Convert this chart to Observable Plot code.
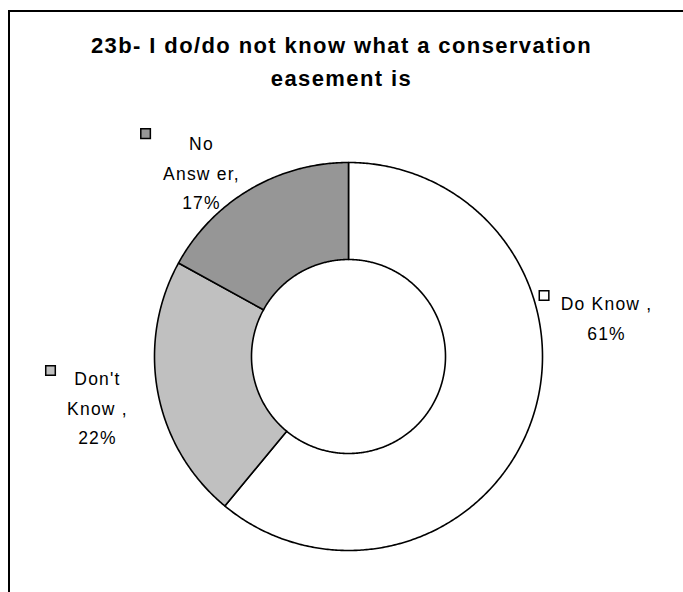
<!DOCTYPE html>
<html>
<head>
<meta charset="utf-8">
<script src="https://cdn.jsdelivr.net/npm/d3@7"></script>
<script src="https://cdn.jsdelivr.net/npm/@observablehq/plot@0.6"></script>
<style>
  html, body { margin: 0; padding: 0; background: #fff; overflow: hidden; }
  #wrap { position: relative; width: 683px; height: 592px; overflow: hidden; background: #fff; }
  #frame { position: absolute; left: 8px; top: 10px; width: 900px; height: 900px; border: 2px solid #000; box-sizing: border-box; }
  #title { position: absolute; left: 0; top: 29px; width: 683px; text-align: center;
           font-family: "Liberation Sans", Arial, sans-serif; font-weight: bold; font-size: 22px; line-height: 33px;
           letter-spacing: 1.4px; color: #000; }
  #chart { position: absolute; left: 0; top: 0; }
  #chart text { letter-spacing: 1.2px; }
</style>
</head>
<body>
<div id="wrap">
  <div id="frame"></div>
  <div id="chart"></div>
  <div id="title">23b- I do/do not know what a conservation<br>easement is</div>
</div>
<script>
// ---- data ----
const categories = ["Do Know", "Don't Know", "No Answer"];
const percents = [61, 22, 17];
const labelLines = ["Do Know ,\n61%", "Don't\nKnow ,\n22%", "No\nAnsw er,\n17%"];

// ---- styles / layout (not data) ----
const sliceColors = ["#ffffff", "#c0c0c0", "#969696"];
const innerRatio = 0.5;
// label anchors in chart units (outer radius = 1)
const textAnchor = [[1.330, -0.345], [-1.294, 0.040], [-0.758, -1.170]];
const keyAnchor = [[1.008, -0.314], [-1.536, 0.072], [-1.046, -1.149]];

const pie = d3.pie().sort(null).value(d => d)(percents);

// ring polygons per slice, built from the pie angles
const ring = [];
pie.forEach((p, i) => {
  const n = Math.max(4, Math.ceil((p.endAngle - p.startAngle) / (Math.PI / 360)));
  for (let k = 0; k <= n; k++) {
    const a = p.startAngle + (p.endAngle - p.startAngle) * k / n;
    ring.push({cat: categories[i], color: sliceColors[i], x: Math.sin(a), y: -Math.cos(a)});
  }
  for (let k = n; k >= 0; k--) {
    const a = p.startAngle + (p.endAngle - p.startAngle) * k / n;
    ring.push({cat: categories[i], color: sliceColors[i], x: innerRatio * Math.sin(a), y: -innerRatio * Math.cos(a)});
  }
});

const labels = categories.map((c, i) => ({
  cat: c, color: sliceColors[i], text: labelLines[i],
  tx: textAnchor[i][0], ty: textAnchor[i][1], kx: keyAnchor[i][0], ky: keyAnchor[i][1]
}));

const chart = Plot.plot({
  width: 683,
  height: 592,
  margin: 0,
  x: {domain: [-1, 1], range: [154, 542], axis: null},
  y: {domain: [-1, 1], range: [162, 550], axis: null},
  color: {type: "identity"},
  style: {fontFamily: "'Liberation Sans', Arial, sans-serif", background: "transparent"},
  marks: [
    Plot.line(ring, {x: "x", y: "y", z: "cat", fill: "color", stroke: "#000", strokeWidth: 1.6, curve: "linear-closed"}),
    Plot.dot(labels, {x: "kx", y: "ky", symbol: "square", r: 5.4, fill: "color", stroke: "#000", strokeWidth: 1.5}),
    Plot.text(labels, {x: "tx", y: "ty", text: "text", fontSize: 17.5, lineHeight: 1.68, lineAnchor: "top", textAnchor: "middle", fill: "#000"})
  ]
});
document.getElementById("chart").appendChild(chart);
</script>
</body>
</html>
